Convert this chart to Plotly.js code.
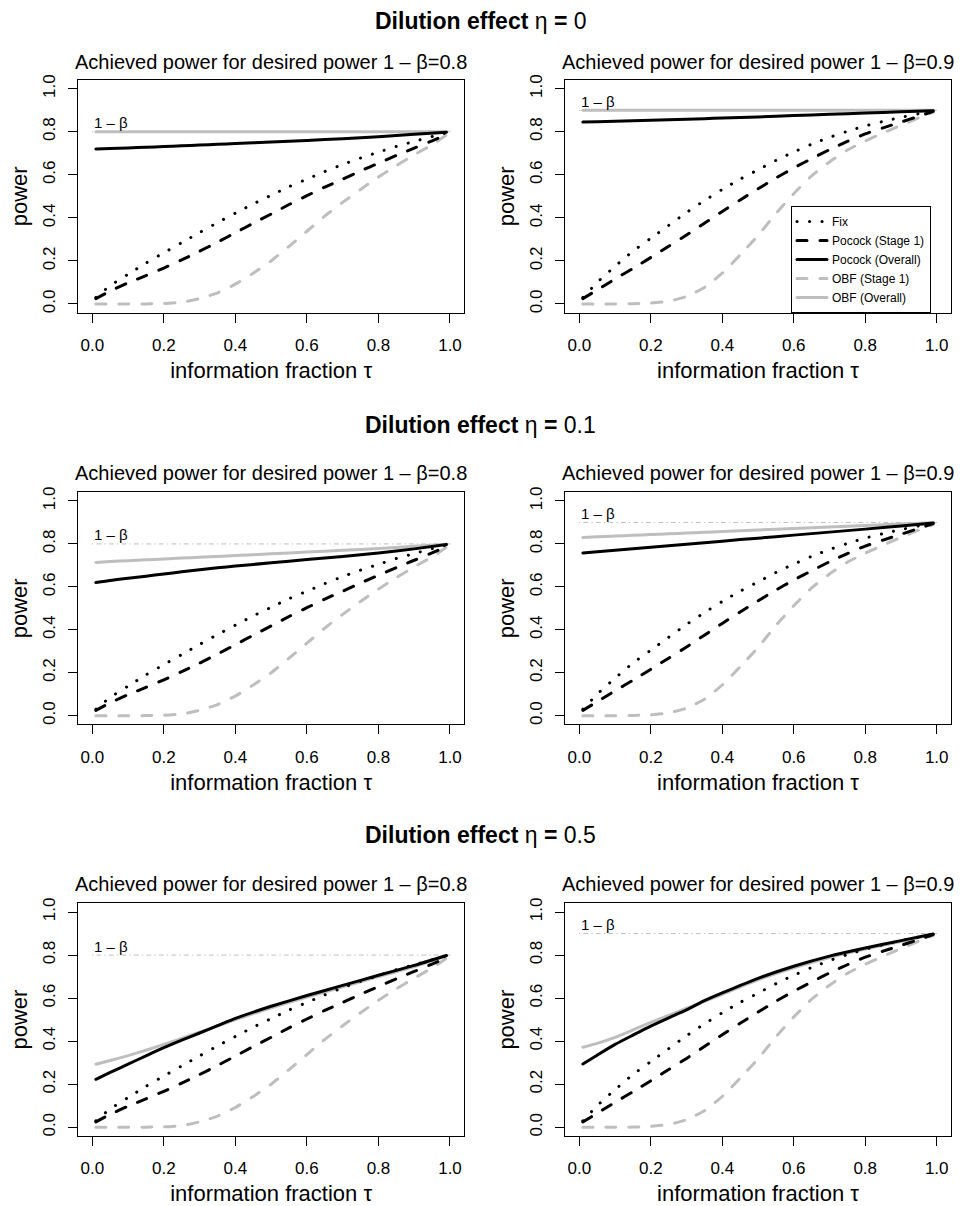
<!DOCTYPE html>
<html><head><meta charset="utf-8">
<script src="https://cdn.plot.ly/plotly-3.0.1.min.js"></script>
<style>
html,body{margin:0;padding:0;background:#fff}
#chart .js-line{stroke-linecap:round}
</style>
</head><body><div id="chart" style="width:961px;height:1206px"></div>
<script>
// ---------- data ----------
const ETA = ['0', '0.1', '0.5'];
const TARGET = [0.8, 0.9];
const SERIES_NAMES = ['Fix', 'Pocock (Stage 1)', 'Pocock (Overall)', 'OBF (Stage 1)', 'OBF (Overall)'];
const X_TICKS = [0, 0.2, 0.4, 0.6, 0.8, 1.0];
const Y_TICKS = [0, 0.2, 0.4, 0.6, 0.8, 1.0];
const REF_X = [0, 1];

// information fraction grid for the stage-1 / fixed curves
const TAU_S1 = [0.01, 0.05, 0.1, 0.15, 0.2, 0.25, 0.3, 0.35, 0.4, 0.45, 0.5, 0.55, 0.6, 0.65, 0.7, 0.75, 0.8, 0.85, 0.9, 0.95, 0.99];
const FIX_80 = [0.03, 0.085, 0.138, 0.19, 0.238, 0.285, 0.332, 0.378, 0.422, 0.465, 0.505, 0.545, 0.58, 0.615, 0.648, 0.678, 0.705, 0.732, 0.755, 0.778, 0.795];
const FIX_90 = [0.03, 0.1, 0.175, 0.245, 0.305, 0.365, 0.425, 0.48, 0.532, 0.58, 0.623, 0.667, 0.706, 0.742, 0.774, 0.802, 0.827, 0.848, 0.867, 0.884, 0.897];
const POC_S1_80 = [0.025, 0.06, 0.098, 0.132, 0.167, 0.205, 0.245, 0.287, 0.331, 0.375, 0.418, 0.462, 0.503, 0.543, 0.58, 0.618, 0.654, 0.69, 0.724, 0.758, 0.787];
const POC_S1_90 = [0.025, 0.065, 0.116, 0.165, 0.216, 0.268, 0.32, 0.375, 0.43, 0.483, 0.535, 0.585, 0.632, 0.675, 0.717, 0.755, 0.79, 0.818, 0.845, 0.872, 0.895];
const OBF_S1_80 = [0, 0, 0, 0.0005, 0.002, 0.008, 0.025, 0.052, 0.092, 0.143, 0.2, 0.268, 0.338, 0.408, 0.472, 0.532, 0.59, 0.643, 0.693, 0.74, 0.785];
const OBF_S1_90 = [0, 0, 0, 0.001, 0.004, 0.013, 0.035, 0.077, 0.143, 0.228, 0.318, 0.42, 0.512, 0.595, 0.66, 0.715, 0.757, 0.795, 0.83, 0.865, 0.89];

// information fraction grid for the overall curves
const TAU_OV = [0.01, 0.05, 0.1, 0.15, 0.2, 0.25, 0.3, 0.35, 0.4, 0.5, 0.6, 0.7, 0.8, 0.9, 0.99];
// eta = 0
const POC_OV_E0_80 = [0.72, 0.722, 0.725, 0.728, 0.731, 0.735, 0.738, 0.742, 0.745, 0.752, 0.76, 0.768, 0.777, 0.788, 0.798];
const OBF_OV_E0_80 = [0.8, 0.8, 0.8, 0.8, 0.8, 0.8, 0.8, 0.8, 0.8, 0.8, 0.8, 0.8, 0.8, 0.8, 0.8];
const POC_OV_E0_90 = [0.845, 0.847, 0.849, 0.851, 0.853, 0.856, 0.858, 0.861, 0.864, 0.869, 0.875, 0.881, 0.887, 0.893, 0.898];
const OBF_OV_E0_90 = [0.9, 0.9, 0.9, 0.9, 0.9, 0.9, 0.9, 0.9, 0.9, 0.9, 0.9, 0.9, 0.9, 0.9, 0.9];
// eta = 0.1
const POC_OV_E1_80 = [0.62, 0.63, 0.64, 0.65, 0.66, 0.67, 0.68, 0.689, 0.697, 0.712, 0.727, 0.742, 0.758, 0.777, 0.797];
const OBF_OV_E1_80 = [0.714, 0.718, 0.722, 0.726, 0.73, 0.734, 0.738, 0.742, 0.746, 0.754, 0.762, 0.77, 0.779, 0.789, 0.798];
const POC_OV_E1_90 = [0.758, 0.764, 0.771, 0.778, 0.785, 0.792, 0.799, 0.806, 0.813, 0.827, 0.841, 0.855, 0.869, 0.884, 0.898];
const OBF_OV_E1_90 = [0.83, 0.833, 0.837, 0.84, 0.844, 0.847, 0.851, 0.854, 0.858, 0.865, 0.872, 0.879, 0.886, 0.893, 0.899];
// eta = 0.5
const POC_OV_E5_80 = [0.223, 0.255, 0.293, 0.332, 0.37, 0.405, 0.438, 0.472, 0.506, 0.562, 0.612, 0.659, 0.706, 0.752, 0.798];
const OBF_OV_E5_80 = [0.293, 0.31, 0.333, 0.358, 0.385, 0.413, 0.442, 0.47, 0.5, 0.555, 0.605, 0.652, 0.7, 0.747, 0.797];
const POC_OV_E5_90 = [0.294, 0.335, 0.385, 0.428, 0.47, 0.508, 0.545, 0.588, 0.624, 0.692, 0.748, 0.795, 0.833, 0.867, 0.898];
const OBF_OV_E5_90 = [0.372, 0.39, 0.418, 0.452, 0.487, 0.52, 0.553, 0.585, 0.618, 0.685, 0.741, 0.789, 0.828, 0.863, 0.897];

// ---------- panel assembly ----------
const PANELS = [
  {row: 0, col: 0, t: 0, po: POC_OV_E0_80, oo: OBF_OV_E0_80},
  {row: 0, col: 1, t: 1, po: POC_OV_E0_90, oo: OBF_OV_E0_90},
  {row: 1, col: 0, t: 0, po: POC_OV_E1_80, oo: OBF_OV_E1_80},
  {row: 1, col: 1, t: 1, po: POC_OV_E1_90, oo: OBF_OV_E1_90},
  {row: 2, col: 0, t: 0, po: POC_OV_E5_80, oo: OBF_OV_E5_80},
  {row: 2, col: 1, t: 1, po: POC_OV_E5_90, oo: OBF_OV_E5_90}
];
const FIX = [FIX_80, FIX_90];
const POC_S1 = [POC_S1_80, POC_S1_90];
const OBF_S1 = [OBF_S1_80, OBF_S1_90];

const W = 961, H = 1206;
const FONT = 'Liberation Sans, Arial, Helvetica, sans-serif';
const BLACK = '#000000', GREY = '#bebebe';
const COLS_PX = [[78, 464.3], [565, 951]];
const ROWS_PX = [[80.1, 312.6], [492.4, 724.3], [903.4, 1135.9]];
const MAIN_Y = [21.5, 425, 835];
const SUB_Y = [62.5, 473, 884];

const STYLES = [
  {color: BLACK, width: 3, dash: '0.1px,12.4px'},
  {color: BLACK, width: 3, dash: '10px,13px'},
  {color: BLACK, width: 3, dash: 'solid'},
  {color: GREY, width: 3, dash: '10px,13px'},
  {color: GREY, width: 3, dash: 'solid'}
];

const data = [];
const layout = {
  width: W, height: H,
  margin: {l: 0, r: 0, t: 0, b: 0},
  paper_bgcolor: '#ffffff', plot_bgcolor: '#ffffff',
  font: {family: FONT, color: BLACK},
  showlegend: true,
  legend: {
    x: 931 / W, xanchor: 'right', y: 1 - 259.5 / H, yanchor: 'middle',
    bordercolor: BLACK, borderwidth: 1, bgcolor: '#ffffff',
    font: {family: FONT, size: 12, color: BLACK},
    itemwidth: 30, tracegroupgap: 0
  },
  annotations: [],
  shapes: []
};

PANELS.forEach((p, i) => {
  const k = i + 1;
  const xa = 'x' + (k === 1 ? '' : k), ya = 'y' + (k === 1 ? '' : k);
  const xkey = 'xaxis' + (k === 1 ? '' : k), ykey = 'yaxis' + (k === 1 ? '' : k);
  const target = TARGET[p.t];
  const inLegend = (p.row === 0 && p.col === 1);

  // 1 - beta reference line
  data.push({
    x: REF_X, y: REF_X.map(() => target), xaxis: xa, yaxis: ya,
    mode: 'lines', line: {color: GREY, width: 1, dash: '0.5px,4px,4px,4px'},
    showlegend: false, hoverinfo: 'skip'
  });
  const series = [
    [TAU_S1, FIX[p.t]],
    [TAU_S1, POC_S1[p.t]],
    [TAU_OV, p.po],
    [TAU_S1, OBF_S1[p.t]],
    [TAU_OV, p.oo]
  ];
  // draw order: grey (OBF) first, then black
  const order = [4, 3, 0, 1, 2];
  order.forEach(s => {
    data.push({
      x: series[s][0], y: series[s][1], xaxis: xa, yaxis: ya,
      mode: 'lines', name: SERIES_NAMES[s],
      line: Object.assign({shape: 'spline', smoothing: 0.5}, STYLES[s]),
      showlegend: inLegend, legendrank: s + 1
    });
  });

  const cx = COLS_PX[p.col], ry = ROWS_PX[p.row];
  const axisCommon = {
    range: [-0.04, 1.04], showgrid: false, zeroline: false,
    showline: true, mirror: true, linecolor: BLACK, linewidth: 1,
    ticks: 'outside', ticklen: 9, tickwidth: 1, tickcolor: BLACK,
    tickfont: {family: FONT, size: 17, color: BLACK},
    tickformat: '.1f', fixedrange: true
  };
  layout[xkey] = Object.assign({}, axisCommon, {
    domain: [cx[0] / W, cx[1] / W], anchor: ya,
    tickvals: X_TICKS, ticklabelstandoff: 8,
    title: {text: 'information fraction τ', font: {family: FONT, size: 22, color: BLACK}, standoff: 8}
  });
  layout[ykey] = Object.assign({}, axisCommon, {
    domain: [1 - ry[1] / H, 1 - ry[0] / H], anchor: xa,
    tickvals: Y_TICKS, tickangle: -90, ticklabelstandoff: 6,
    title: {text: 'power', font: {family: FONT, size: 22, color: BLACK}, standoff: 6}
  });

  // panel subtitle
  layout.annotations.push({
    xref: 'paper', yref: 'paper', x: (cx[0] + cx[1]) / 2 / W, y: 1 - SUB_Y[p.row] / H,
    xanchor: 'center', yanchor: 'middle', showarrow: false,
    text: 'Achieved power for desired power 1 – β=' + target.toFixed(1),
    font: {family: FONT, size: 20, color: BLACK}
  });
  // 1 - beta label
  layout.annotations.push({
    xref: xa, yref: ya, x: 0, y: target + 0.042, xanchor: 'left', yanchor: 'middle',
    showarrow: false, text: '1 – β', font: {family: FONT, size: 15, color: BLACK}
  });
});

ETA.forEach((e, r) => {
  layout.annotations.push({
    xref: 'paper', yref: 'paper', x: 0.5, y: 1 - MAIN_Y[r] / H,
    xanchor: 'center', yanchor: 'middle', showarrow: false,
    text: '<b>Dilution effect</b> η <b>=</b> ' + e,
    font: {family: FONT, size: 23, color: BLACK}
  });
});

Plotly.newPlot('chart', data, layout, {displayModeBar: false, staticPlot: true});
</script></body></html>
